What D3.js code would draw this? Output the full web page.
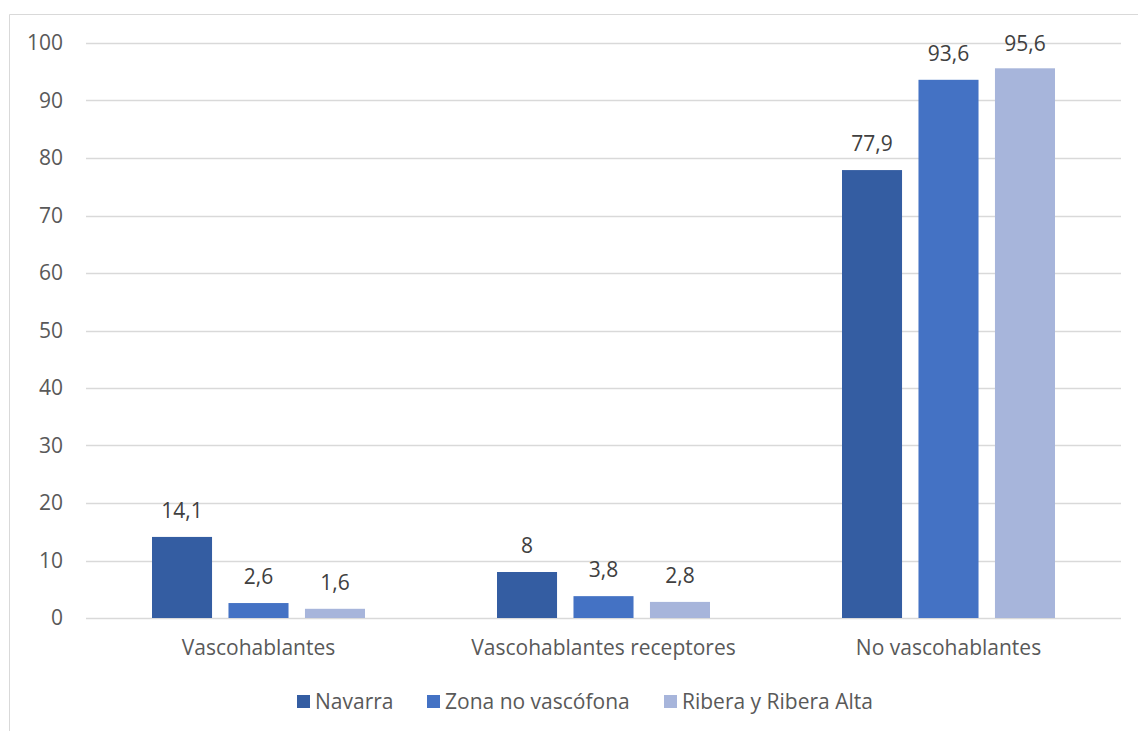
<!DOCTYPE html>
<html>
<head>
<meta charset="utf-8">
<script src="https://cdn.jsdelivr.net/npm/d3@7"></script>
<style>
  html, body { margin: 0; padding: 0; background: #fff; }
  svg { display: block; font-family: "Open Sans", "Noto Sans", sans-serif; }
</style>
</head>
<body>
<svg id="chart" width="1138" height="731"></svg>
<script>
// Categories, series and values
const categories = ["Vascohablantes", "Vascohablantes receptores", "No vascohablantes"];
const seriesNames = ["Navarra", "Zona no vascófona", "Ribera y Ribera Alta"];
const navarra = [14.1, 8, 77.9];
const zonaNoVascofona = [2.6, 3.8, 93.6];
const ribera = [1.6, 2.8, 95.6];
const yTicks = [0, 10, 20, 30, 40, 50, 60, 70, 80, 90, 100];

const seriesValues = [navarra, zonaNoVascofona, ribera];
const colors = ["#345da2", "#4472c4", "#a7b5db"];

const svg = d3.select("#chart");
const W = 1138, H = 731;
const plot = { left: 86, right: 1121, top: 43, bottom: 618 };
const fontSize = 21;

// Chart area frame (left and top edges)
svg.append("path")
  .attr("d", `M9.5,${H} V14.5 H${W}`)
  .attr("fill", "none")
  .attr("stroke", "#d9d9d9")
  .attr("stroke-width", 1);

const y = d3.scaleLinear().domain([0, 100]).range([plot.bottom, plot.top]);
const x0 = d3.scaleBand().domain(categories).range([plot.left, plot.right]).padding(0);
const groupInset = 66;
const x1 = d3.scaleBand().domain(seriesNames)
  .range([groupInset, x0.bandwidth() - groupInset])
  .paddingInner(0.215).paddingOuter(0);

// Gridlines
svg.append("g")
  .selectAll("line")
  .data(yTicks)
  .join("line")
  .attr("x1", plot.left).attr("x2", plot.right)
  .attr("y1", d => Math.round(y(d)) + 0.5).attr("y2", d => Math.round(y(d)) + 0.5)
  .attr("stroke", "#d9d9d9").attr("stroke-width", 1.3);

// Y axis labels
const yAxis = d3.axisLeft(y).tickValues(yTicks).tickSize(0).tickPadding(0);
const yg = svg.append("g").attr("transform", `translate(63,0)`).call(yAxis);
yg.select(".domain").remove();
yg.selectAll("text").attr("fill", "#595959").attr("font-size", fontSize)
  .attr("font-family", "'Open Sans', 'Noto Sans', sans-serif");

// Bars
const groups = svg.append("g").selectAll("g")
  .data(categories)
  .join("g")
  .attr("transform", d => `translate(${x0(d)},0)`);

groups.selectAll("rect")
  .data((c, i) => seriesNames.map((s, k) => ({ s, k, v: seriesValues[k][i] })))
  .join("rect")
  .attr("x", d => x1(d.s))
  .attr("width", x1.bandwidth())
  .attr("y", d => y(d.v))
  .attr("height", d => y(0) - y(d.v))
  .attr("fill", d => colors[d.k]);

// Value labels (kept inside the top of the plot area)
const fmt = v => String(v).replace(".", ",");
groups.selectAll("text.val")
  .data((c, i) => seriesNames.map((s, k) => ({ s, k, v: seriesValues[k][i] })))
  .join("text")
  .attr("class", "val")
  .attr("x", d => x1(d.s) + x1.bandwidth() / 2)
  .attr("y", d => Math.max(y(d.v) - 19, 51))
  .attr("text-anchor", "middle")
  .attr("fill", "#404040")
  .attr("font-size", fontSize)
  .text(d => fmt(d.v));

// X axis category labels
const xAxis = d3.axisBottom(x0).tickSize(0).tickPadding(0);
const xg = svg.append("g").attr("transform", `translate(0,${plot.bottom + 22})`).call(xAxis);
xg.select(".domain").remove();
xg.selectAll("text").attr("fill", "#595959").attr("font-size", fontSize)
  .attr("font-family", "'Open Sans', 'Noto Sans', sans-serif");

// Legend
const legendX = [297, 427, 664];
const legend = svg.append("g").selectAll("g")
  .data(seriesNames)
  .join("g")
  .attr("transform", (d, i) => `translate(${legendX[i]},695)`);
legend.append("rect").attr("width", 13).attr("height", 13)
  .attr("fill", (d, i) => colors[i]);
legend.append("text").attr("x", 18).attr("y", 14)
  .attr("fill", "#595959").attr("font-size", fontSize)
  .text(d => d);
</script>
</body>
</html>
